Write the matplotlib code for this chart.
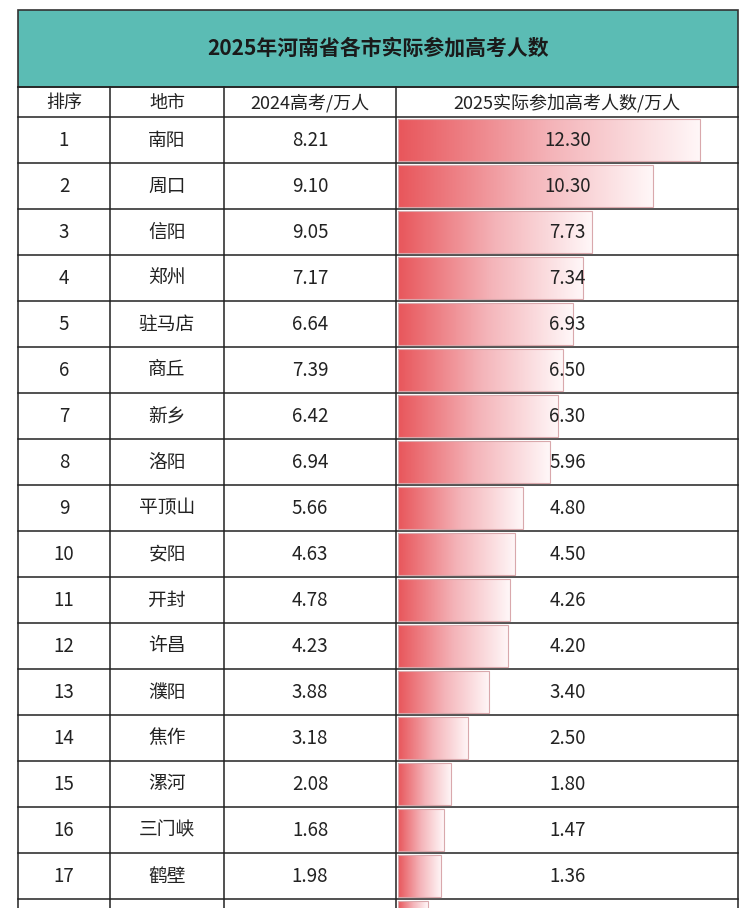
import numpy as np
import matplotlib
matplotlib.use("Agg")
import matplotlib.pyplot as plt
from matplotlib.patches import Rectangle

plt.rcParams["font.family"] = ["Noto Sans CJK SC", "DejaVu Sans"]

title = "2025年河南省各市实际参加高考人数"
headers = ["排序", "地市", "2024高考/万人", "2025实际参加高考人数/万人"]
ranks = [str(i) for i in range(1, 18)]
cities = ["南阳", "周口", "信阳", "郑州", "驻马店", "商丘", "新乡", "洛阳", "平顶山",
          "安阳", "开封", "许昌", "濮阳", "焦作", "漯河", "三门峡", "鹤壁"]
exam_2024 = [8.21, 9.10, 9.05, 7.17, 6.64, 7.39, 6.42, 6.94, 5.66,
             4.63, 4.78, 4.23, 3.88, 3.18, 2.08, 1.68, 1.98]
# last value belongs to the 18th row, which is cut off at the bottom edge
exam_2025 = [12.30, 10.30, 7.73, 7.34, 6.93, 6.50, 6.30, 5.96, 4.80,
             4.50, 4.26, 4.20, 3.40, 2.50, 1.80, 1.47, 1.36, 0.80]

W, H = 754, 908
fig = plt.figure(figsize=(W / 100, H / 100), dpi=100)
fig.patch.set_facecolor("white")

# layout axes in pixel units
ax = fig.add_axes([0, 0, 1, 1])
ax.set_xlim(0, W)
ax.set_ylim(H, 0)
ax.axis("off")

cols = [18, 110, 224, 396, 738]
top_title, top_head, top_rows, row_h = 10, 87, 117, 46
n = len(exam_2025)

ax.add_patch(Rectangle((cols[0], top_title), cols[-1] - cols[0], top_head - top_title,
                       facecolor="#5bbcb4", edgecolor="#333333", lw=1.2, zorder=1))
ax.text((cols[0] + cols[-1]) / 2, (top_title + top_head) / 2, title, ha="center",
        va="center", fontsize=15, fontweight="bold", color="#1a1a1a")

lw = 1.1
bottom = top_rows + row_h * n
ax.plot([cols[0], cols[-1]], [top_head, top_head], color="#222222", lw=lw, zorder=5)
for i in range(n + 1):
    y = top_rows + i * row_h
    ax.plot([cols[0], cols[-1]], [y, y], color="#222222", lw=lw, zorder=5)
for x in cols:
    ax.plot([x, x], [top_head, bottom], color="#222222", lw=lw, zorder=5)

for j, h in enumerate(headers):
    ax.text((cols[j] + cols[j + 1]) / 2, (top_head + top_rows) / 2 + 1, h, ha="center",
            va="center", fontsize=13, color="#222222")

for i in range(len(cities)):
    yc = top_rows + (i + 0.5) * row_h
    for j, s in enumerate([ranks[i], cities[i], f"{exam_2024[i]:.2f}"]):
        ax.text((cols[j] + cols[j + 1]) / 2, yc, s, ha="center", va="center",
                fontsize=13.5, color="#222222", zorder=6)

# bar axes over the last column, in value units
x0, x1 = cols[3] + 2, cols[4]
bax = fig.add_axes([x0 / W, 0, (x1 - x0) / W, (H - top_rows) / H])
bax.axis("off")
bax.patch.set_alpha(0)

grad = np.linspace(0, 1, 256)[None, :]
cmap = matplotlib.colors.LinearSegmentedColormap.from_list(
    "fade", ["#e8565b", "#f4b3b8", "#fff7f8"])
left = -0.46
for i, v in enumerate(exam_2025):
    rect = Rectangle((left, i + 0.05), v - left, 0.9, facecolor="none",
                     edgecolor="#d9a8ac", lw=0.8, zorder=3)
    bax.add_patch(rect)
    im = bax.imshow(grad, cmap=cmap, aspect="auto",
                    extent=[left, v, i + 0.95, i + 0.05], zorder=2)
    im.set_clip_path(rect)
    if i < len(cities):
        bax.text(6.7, i + 0.5, f"{v:.2f}", ha="center", va="center", fontsize=13.5,
                 color="#222222", zorder=6)
bax.set_xlim(left, left + (x1 - x0) / 23.67)
bax.set_ylim((H - top_rows) / row_h, 0)

fig.savefig("out.png", dpi=100)
